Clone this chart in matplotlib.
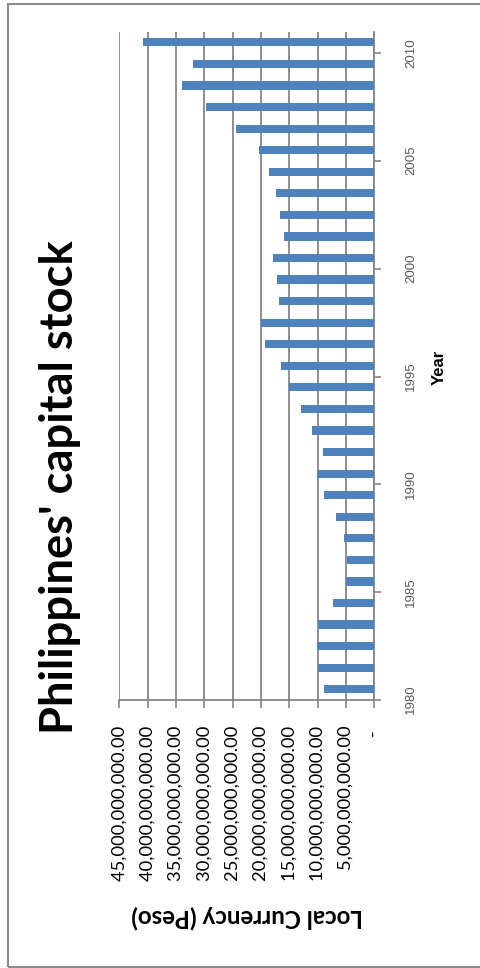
import matplotlib
matplotlib.use('Agg')
import matplotlib.pyplot as plt
from matplotlib.patches import Rectangle
from matplotlib.ticker import FixedLocator, NullFormatter

# Philippines capital stock, local currency (peso), 1980-2010
years = list(range(1980, 2011))
capital_stock = [
    8.88e9, 9.94e9, 10.17e9, 9.94e9, 7.24e9,
    4.94e9, 4.82e9, 5.40e9, 6.71e9, 8.88e9,
    10.17e9, 9.11e9, 11.00e9, 12.88e9, 15.00e9,
    16.47e9, 19.35e9, 20.00e9, 16.87e9, 17.12e9,
    17.93e9, 15.88e9, 16.70e9, 17.35e9, 18.58e9,
    20.35e9, 24.46e9, 29.70e9, 33.99e9, 31.94e9,
    40.87e9,
]

value_ticks = [0, 5e9, 10e9, 15e9, 20e9, 25e9, 30e9, 35e9, 40e9, 45e9]
value_labels = ['-  '] + [f'{v:,.2f} ' for v in value_ticks[1:]]
year_labels = [1980, 1985, 1990, 1995, 2000, 2005, 2010]

W, H = 480, 968
calibri_like = 'Lato'
arial_like = 'Liberation Sans'
grid_grey = '#868686'

fig = plt.figure(figsize=(W / 100, H / 100), dpi=100)

# sheet is turned on its side: years run up the right edge, values grow to the left
ax = fig.add_axes([119.3 / W, 1 - 700 / H, (374.3 - 119.3) / W, (700 - 31.6) / H])
ax.barh(years, capital_stock, height=0.38, color='#4F81BD', zorder=3)
ax.set_xlim(45e9, 0)
ax.set_ylim(1979.5, 2010.5)

ax.set_xticks(value_ticks)
ax.set_xticklabels(value_labels, rotation=90, fontsize=13.2, family=calibri_like)
ax.tick_params(axis='x', direction='out', length=6, width=1.2, color=grid_grey, pad=9)
ax.grid(axis='x', color=grid_grey, linewidth=1.3, zorder=0)

ax.yaxis.tick_right()
ax.yaxis.set_major_locator(FixedLocator([1979.5 + 5 * k for k in range(7)]))
ax.yaxis.set_major_formatter(NullFormatter())
ax.yaxis.set_minor_locator(FixedLocator(year_labels))
ax.set_yticklabels([str(y) for y in year_labels], minor=True, rotation=90,
                   fontsize=9.5, family=arial_like, color='#595959')
ax.tick_params(axis='y', which='major', direction='out', length=5, width=1.2, color=grid_grey)
ax.tick_params(axis='y', which='minor', length=0, pad=22)

for side in ('top', 'left'):
    ax.spines[side].set_visible(False)
for side in ('right', 'bottom'):
    ax.spines[side].set_color(grid_grey)
    ax.spines[side].set_linewidth(1.3)

fig.text(60 / W, 1 - 487 / H, "Philippines' capital stock", rotation=90,
         ha='center', va='center', fontsize=32.6, fontweight='bold', family=calibri_like)
fig.text(439 / W, 1 - 367 / H, 'Year', rotation=90, ha='center', va='center',
         fontsize=12, fontweight='bold', family=arial_like)
fig.text(247 / W, 1 - 917 / H, 'Local Currency (Peso)', rotation=180, ha='center', va='center',
         fontsize=17.4, fontweight='bold', family=calibri_like)

# chart area frame
fig.patches.append(Rectangle((7.5 / W, 1 - 966.5 / H), 480 / W, 963 / H,
                             transform=fig.transFigure, fill=False,
                             edgecolor='#8c8c8c', linewidth=1.5))

fig.savefig('out.png', dpi=100)
